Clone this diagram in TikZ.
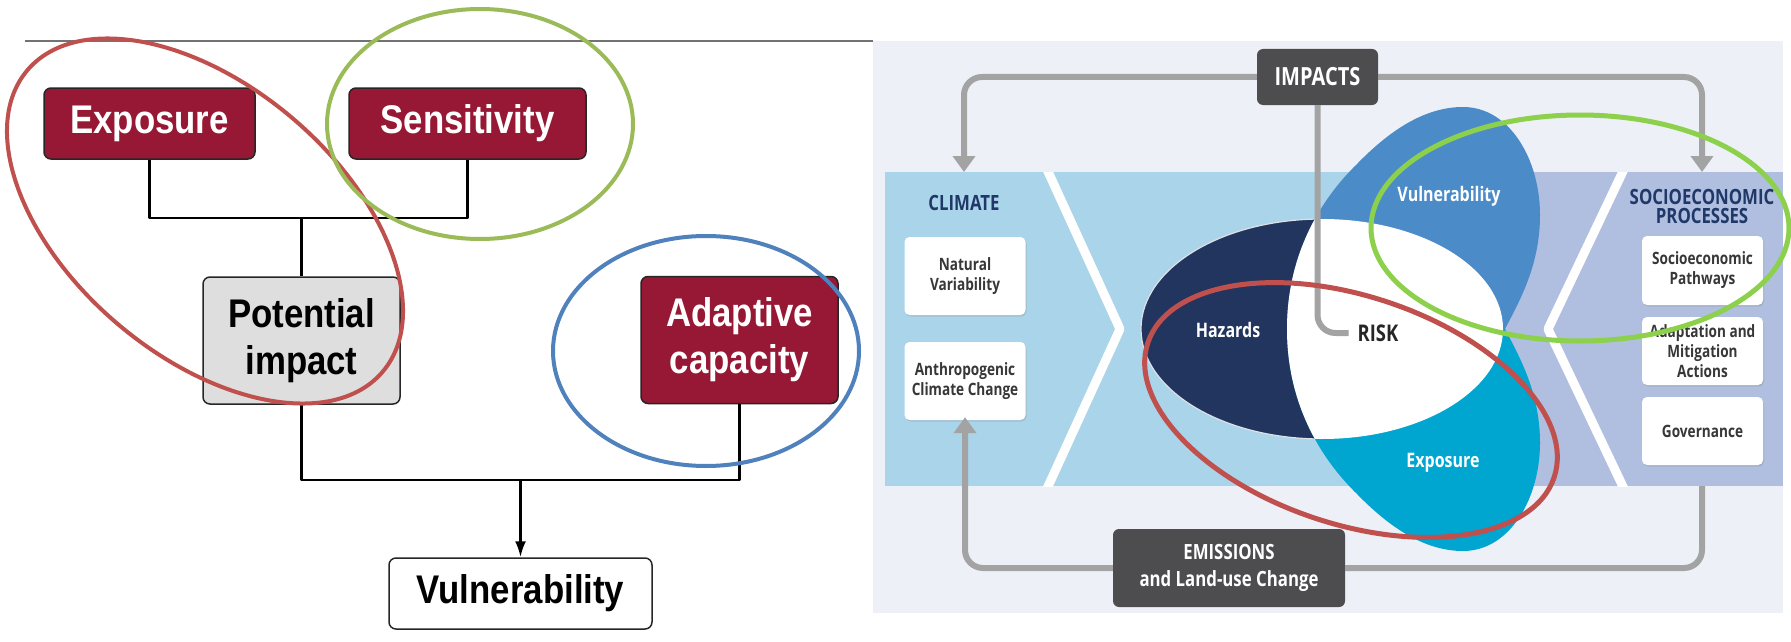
\documentclass[tikz,border=0pt]{standalone}
\usepackage{fontspec}
\setmainfont{Liberation Sans}
\newfontfamily\narrowsans[FakeStretch=0.87]{Liberation Sans}
\newfontfamily\ipccsans[FakeStretch=0.8]{Open Sans}
\usetikzlibrary{arrows.meta,shadows}
\definecolor{boxred}{RGB}{150,24,52}
\definecolor{boxgrey}{RGB}{222,222,222}
\definecolor{ringred}{RGB}{192,80,77}
\definecolor{ringgreen}{RGB}{155,187,89}
\definecolor{ringblue}{RGB}{79,129,189}
\definecolor{limegreen}{RGB}{140,208,76}
\definecolor{paper}{RGB}{237,241,247}
\definecolor{bandblue}{RGB}{170,212,233}
\definecolor{lavender}{RGB}{176,190,224}
\definecolor{navy}{RGB}{31,56,104}
\definecolor{hazard}{RGB}{34,53,94}
\definecolor{vulblue}{RGB}{74,139,200}
\definecolor{expcyan}{RGB}{0,165,208}
\definecolor{impgrey}{RGB}{77,77,79}
\definecolor{loopgrey}{RGB}{163,163,163}
\definecolor{boxtext}{RGB}{55,55,55}
\begin{document}
\begin{tikzpicture}[x=1pt,y=-1pt,line join=round,
  redbox/.style={draw=black!85,line width=1.5,fill=boxred,rounded corners=7,text=white,align=center,
    font=\narrowsans\bfseries\fontsize{40}{47}\selectfont},
  greybox/.style={redbox,fill=boxgrey,text=black},
  whitebox/.style={redbox,fill=white,text=black},
  link/.style={line width=2.5},
  ring/.style={line width=4},
  panelbox/.style={fill=white,rounded corners=5,minimum width=121,align=center,text=boxtext,
    font=\ipccsans\bfseries\fontsize{17}{20}\selectfont,
    drop shadow={shadow xshift=1pt,shadow yshift=-1.5pt,opacity=.25}},
  darkbox/.style={fill=impgrey,rounded corners=6,text=white,align=center,
    font=\ipccsans\bfseries\fontsize{21}{27}\selectfont},
  header/.style={text=navy,align=center,font=\ipccsans\bfseries\fontsize{21}{19}\selectfont},
  petal/.style={text=white,font=\ipccsans\bfseries\fontsize{20}{24}\selectfont},
  feedback/.style={draw=loopgrey,line width=6,rounded corners=18}]
\useasboundingbox[fill=white] (0,0) rectangle (1791,642);

\draw[black!55,line width=1.5] (25,41) -- (873,41);
\node[redbox,minimum width=211,minimum height=71] (expo) at (149.5,123.5) {Exposure};
\node[redbox,minimum width=237,minimum height=71] (sens) at (467.5,123.5) {Sensitivity};
\node[greybox,minimum width=197,minimum height=127] (pot) at (301.5,340.5) {Potential\\impact};
\node[redbox,minimum width=197,minimum height=127] (adapt) at (739.5,340) {Adaptive\\capacity};
\node[whitebox,minimum width=263,minimum height=71] (vuln) at (520.5,593.5) {Vulnerability};
\coordinate (j1) at (301.5,218);
\coordinate (j2) at (520.5,480);
\draw[link] (expo.south) |- (j1) -| (sens.south);
\draw[link] (j1) -- (pot.north);
\draw[link] (pot.south) |- (j2) -| (adapt.south);
\draw[link,-{Latex[length=16pt,width=11pt]}] (j2) -- (vuln.north);

\fill[paper] (873,41) rectangle (1783,613);
\fill[bandblue] (885,172) rectangle (1450,486);
\fill[lavender] (1450,172) rectangle (1783,486);
\begin{scope}
  \clip (885,172) rectangle (1783,486);
  \draw[white,line width=9] (1045,165) -- (1120,329) -- (1045,493);
  \draw[white,line width=9] (1626,165) -- (1548,329) -- (1626,493);
\end{scope}
\node[header] (climate) at (964,203) {CLIMATE};
\node[header] (socio) at (1702,206) {SOCIOECONOMIC\\PROCESSES};
\node[panelbox,minimum height=78] (natural) at (965,276) {Natural\\Variability};
\node[panelbox,minimum height=78] (anthro) at (965,381) {Anthropogenic\\Climate Change};
\node[panelbox,minimum height=69] (pathways) at (1702.5,270.5) {Socioeconomic\\Pathways};
\node[panelbox,minimum height=68] (actions) at (1702.5,351) {Adaptation and\\Mitigation\\Actions};
\node[panelbox,minimum height=68] (govern) at (1702.5,431) {Governance};

\fill[hazard] (1322,329) ellipse [x radius=181,y radius=110];
\draw[white!85!hazard,line width=1.2] (1322,329) ellipse [x radius=181,y radius=110];
\fill[vulblue] (1287,329) .. controls (1287,255) and (1320,200) .. (1357,164)
  .. controls (1390,130) and (1425,107) .. (1463,107)
  .. controls (1510,107) and (1540,160) .. (1540,215)
  .. controls (1540,265) and (1520,300) .. (1505,329) -- cycle;
\fill[expcyan] (1287,329) .. controls (1287,403) and (1320,458) .. (1357,494)
  .. controls (1390,528) and (1425,551) .. (1463,551)
  .. controls (1510,551) and (1540,498) .. (1540,443)
  .. controls (1540,393) and (1520,358) .. (1505,329) -- cycle;
\begin{scope}
  \clip (1322,329) ellipse [x radius=181,y radius=110];
  \fill[white] (1287,329) .. controls (1287,255) and (1320,200) .. (1357,164)
    -- (1560,164) -- (1560,494) -- (1357,494)
    .. controls (1320,458) and (1287,403) .. (1287,329) -- cycle;
\end{scope}
\node[petal] (hazards) at (1228,330) {Hazards};
\node[petal] (vulner) at (1449,196) {Vulnerability};
\node[petal] (exposure) at (1443,463) {Exposure};
\node[text=black!85,inner sep=9,font=\ipccsans\bfseries\fontsize{23}{26}\selectfont] (risk) at (1378,333) {RISK};

\node[darkbox,minimum width=121,minimum height=56,font=\ipccsans\bfseries\fontsize{25}{27}\selectfont] (impacts) at (1317.5,77) {IMPACTS};
\node[darkbox,minimum width=232,minimum height=78] (emis) at (1229,568) {EMISSIONS\\and Land-use Change};
\coordinate (climtop) at (964,172);
\coordinate (socitop) at (1702,172);
\coordinate (socibot) at (1702,486);
\draw[feedback,-{Triangle[width=22pt,length=16pt]}] (impacts.west) -| (climtop);
\draw[feedback,-{Triangle[width=22pt,length=16pt]}] (impacts.east) -| (socitop);
\draw[feedback,-{Triangle[width=22pt,length=16pt]},shorten >=-3pt] (emis.west) -| (anthro.south);
\draw[feedback] (emis.east) -| (socibot);
\draw[feedback] (impacts.south) |- (risk.west);

\draw[ring,ringred,rotate around={-40.3:(205,221)}] (205,221) ellipse [x radius=233,y radius=135];
\draw[ring,ringgreen] (480,124) ellipse [x radius=153,y radius=115];
\draw[ring,ringblue] (706,351) ellipse [x radius=153,y radius=115];
\draw[ring,line width=5,limegreen] (1580,228) ellipse [x radius=209,y radius=113];
\draw[ring,line width=5,ringred,rotate around={-18.3:(1351,410)}] (1351,410) ellipse [x radius=214,y radius=114];
\end{tikzpicture}
\end{document}
